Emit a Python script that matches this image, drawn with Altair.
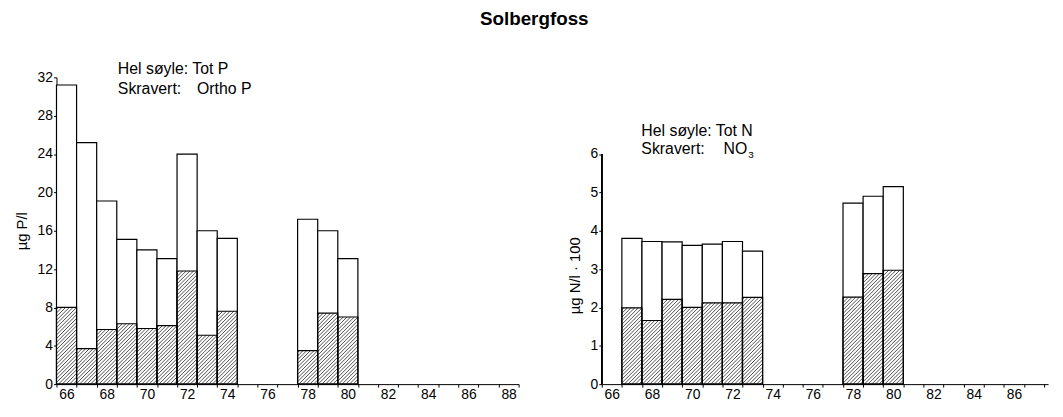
import altair as alt
import pandas as pd

FONT = "Liberation Sans"

# ---- data ----
p_years = [66, 67, 68, 69, 70, 71, 72, 73, 74, 78, 79, 80]
tot_p = [31.2, 25.2, 19.1, 15.1, 14.0, 13.1, 24.0, 16.0, 15.2, 17.2, 16.0, 13.1]
ortho_p = [8.0, 3.7, 5.7, 6.3, 5.8, 6.1, 11.8, 5.1, 7.6, 3.5, 7.4, 7.0]

n_years = [67, 68, 69, 70, 71, 72, 73, 78, 79, 80]
tot_n = [3.80, 3.72, 3.71, 3.62, 3.65, 3.72, 3.47, 4.72, 4.90, 5.15]
no3 = [1.99, 1.66, 2.21, 2.00, 2.12, 2.12, 2.26, 2.27, 2.88, 2.97]

p_ticks = [0, 4, 8, 12, 16, 20, 24, 28, 32]
n_ticks = [0, 1, 2, 3, 4, 5, 6]
edge_ticks = [y + 0.5 for y in range(65, 89)]  # 65.5 ... 88.5

title_text = "Solbergfoss"
p_axis_title = "µg P/l"
n_axis_title = "µg N/l · 100"
leg_whole = ["Hel søyle: Tot P", "Hel søyle: Tot N"]
leg_hatch = "Skravert:"
leg_p_hatch = "Ortho P"
leg_n_hatch = "NO"
leg_n_sub = "3"

# ---- layout constants ----
PX_YEAR = 20.3
H = 310
X_DOM_L = [65.5, 88.5]
X_DOM_R = [65.5, 87.7]   # right panel is cut at the page edge
P_DOM = [0, 32]
N_DOM = [0, 8]
LBL = 14


def bars_df(years, whole, part):
    return pd.DataFrame({"year": years, "whole": whole, "part": part})


def hatch_df(years, vals, px_x, px_y, step=3.7):
    rows = []
    for yr, v in zip(years, vals):
        w = px_x
        h = v * px_y
        c = -h + step / 2
        while c < w:
            u0 = max(0.0, c)
            u1 = min(w, c + h)
            if u1 > u0:
                rows.append({
                    "x": yr - 0.5 + u0 / px_x, "y": (u0 - c) / px_y,
                    "x2": yr - 0.5 + u1 / px_x, "y2": (u1 - c) / px_y,
                })
            c += step
    return pd.DataFrame(rows)


def make_x_axis(xdom):
    vals = [v for v in edge_ticks if v <= xdom[1]]
    expr = (f"(datum.value + 0.5) % 2 == 0 && datum.value + 0.5 <= {xdom[1]} "
            f"? format(datum.value + 0.5, 'd') : ''")
    return alt.Axis(values=vals, labelExpr=expr, labelOffset=PX_YEAR / 2,
                    tickSize=3, grid=False, title=None, labelFlush=False,
                    labelOverlap=False, domainColor="black", tickColor="black",
                    labelFont=FONT, labelFontSize=LBL, labelColor="black",
                    labelPadding=1)


def panel(years, whole, part, xdom, ydom, yticks, ytitle, show_domain, title_y=None):
    df = bars_df(years, whole, part)
    px_y = H / (ydom[1] - ydom[0])
    xs = alt.Scale(domain=xdom, nice=False, zero=False)
    ys = alt.Scale(domain=ydom, nice=False, zero=False)
    x_axis = make_x_axis(xdom)
    yaxis_kw = dict(values=yticks, tickSize=3, grid=False, title=ytitle,
                    domain=show_domain, domainColor="black", tickColor="black",
                    labelFont=FONT, labelFontSize=LBL, labelColor="black",
                    labelPadding=1, labelOverlap=False, labelFlush=False,
                    titleFont=FONT, titleFontSize=15,
                    titleFontWeight="normal", titleColor="black", titlePadding=8)
    if title_y is not None:
        yaxis_kw["titleY"] = title_y
    y_axis = alt.Axis(**yaxis_kw)
    base = alt.Chart(df).transform_calculate(x0="datum.year - 0.5", x1="datum.year + 0.5")
    whole_bars = base.mark_rect(fill="white", stroke="black", strokeWidth=1.2).encode(
        x=alt.X("x0:Q", scale=xs, axis=x_axis),
        x2="x1:Q",
        y=alt.Y("whole:Q", scale=ys, axis=y_axis),
        y2=alt.datum(0),
    )
    hatch = alt.Chart(hatch_df(years, part, PX_YEAR, px_y)).mark_rule(
        color="#222", strokeWidth=0.8).encode(
        x=alt.X("x:Q", scale=xs, axis=x_axis), y=alt.Y("y:Q", scale=ys, axis=y_axis),
        x2="x2:Q", y2="y2:Q")
    part_bars = base.mark_rect(fill=None, fillOpacity=0, stroke="black", strokeWidth=1.2).encode(
        x=alt.X("x0:Q", scale=xs, axis=x_axis), x2="x1:Q",
        y=alt.Y("part:Q", scale=ys, axis=y_axis), y2=alt.datum(0))
    layers = [whole_bars, hatch, part_bars]
    if not show_domain:
        dom = alt.Chart(df).mark_rule(color="black", strokeWidth=1).encode(
            x=alt.value(0), y=alt.datum(yticks[0], scale=ys, axis=y_axis),
            y2=alt.datum(yticks[-1]))
        layers.append(dom)
    width = round((xdom[1] - xdom[0]) * PX_YEAR)
    return layers, width


def txt(s, x, y, size=16):
    return alt.Chart(pd.DataFrame({"t": [s]})).mark_text(
        align="left", baseline="alphabetic", font=FONT, fontSize=size, color="black"
    ).encode(text="t:N", x=alt.value(x), y=alt.value(y))


left_layers, wl = panel(p_years, tot_p, ortho_p, X_DOM_L, P_DOM, p_ticks, p_axis_title, True)
left_layers += [txt(leg_whole[0], 62, -3), txt(leg_hatch, 62, 17), txt(leg_p_hatch, 142, 17)]
left = alt.layer(*left_layers).properties(width=wl, height=H)

right_layers, wr = panel(n_years, tot_n, no3, X_DOM_R, N_DOM, n_ticks, n_axis_title, False,
                         title_y=200)
right_layers += [txt(leg_whole[1], 40, 59), txt(leg_hatch, 40, 77), txt(leg_n_hatch, 123, 77),
                 txt(leg_n_sub, 148, 81, size=10)]
right = alt.layer(*right_layers).properties(width=wr, height=H)

chart = alt.hconcat(left, right, spacing=38).properties(
    title=alt.TitleParams(title_text, font=FONT, fontSize=19, fontWeight="bold",
                          anchor="middle", color="black", offset=33, dx=0),
    padding={"left": 6, "top": 0, "right": 0, "bottom": 0},
).configure(background="white").configure_view(strokeWidth=0, stroke="transparent")

chart.save("out.html", embed_options={"renderer": "svg", "actions": False})
